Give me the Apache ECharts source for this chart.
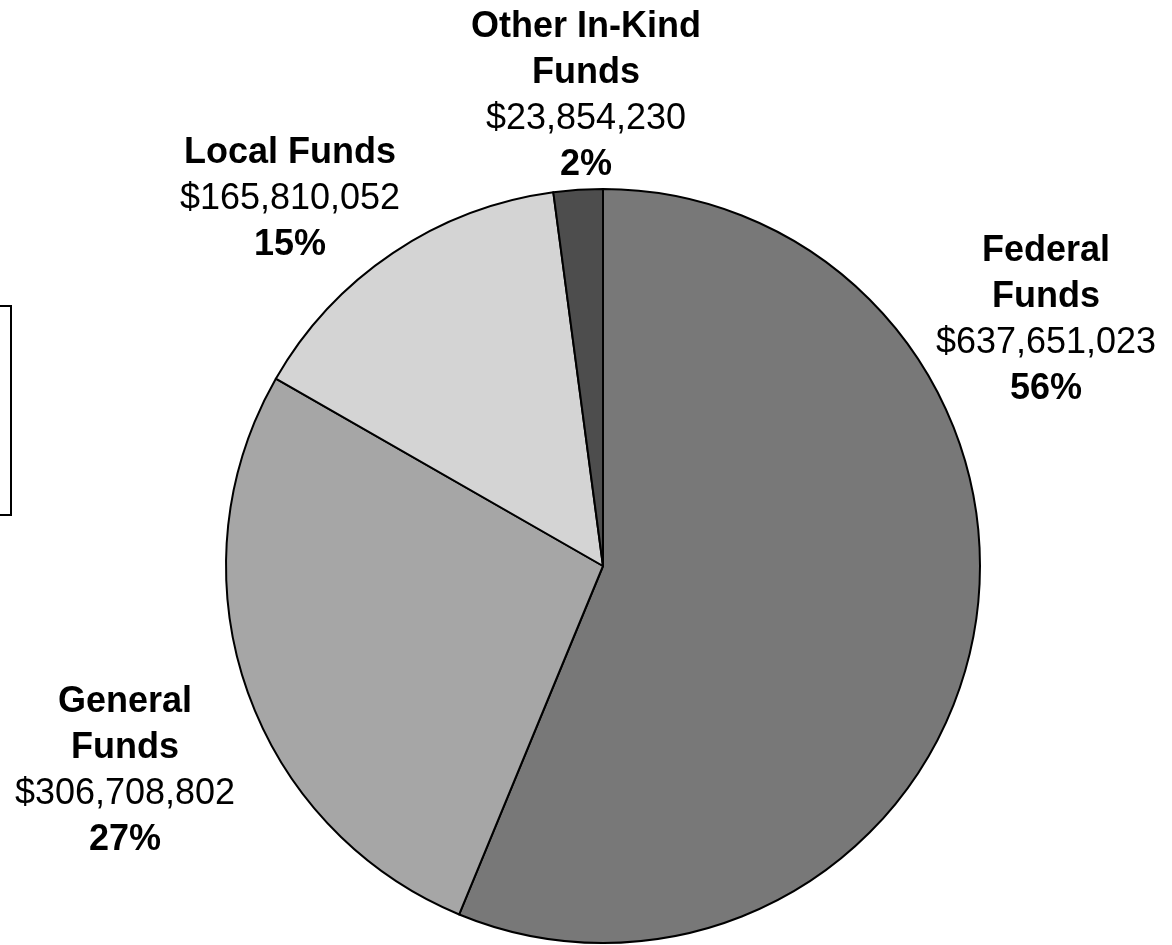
<!DOCTYPE html>
<html>
<head>
<meta charset="utf-8">
<title>Funding Sources</title>
<script src="https://cdn.jsdelivr.net/npm/echarts@6/dist/echarts.min.js"></script>
<style>
  html, body { margin: 0; padding: 0; background: #ffffff; }
  #chart { width: 1172px; height: 945px; }
</style>
</head>
<body>
<div id="chart"></div>
<script>
// Funding sources, listed clockwise from 12 o'clock
const categories = ['Federal\nFunds', 'General\nFunds', 'Local Funds', 'Other In-Kind\nFunds'];
const amounts = [637651023, 306708802, 165810052, 23854230];
const sliceColors = ['#787878', '#a6a6a6', '#d4d4d4', '#4d4d4d'];

// Where each label block is centred
const labelSpots = [
  [1046, 320],
  [125, 771],
  [290, 199],
  [586, 96]
];

const chart = echarts.init(document.getElementById('chart'), null, { renderer: 'canvas' });

function nameRich(name) {
  return name.split('\n').map(function (line) { return '{n|' + line + '}'; }).join('\n');
}

const option = {
  backgroundColor: '#ffffff',
  animation: false,
  textStyle: { fontFamily: '"Liberation Sans", Arial, sans-serif' },
  graphic: [
    {
      type: 'rect',
      shape: { x: -20, y: 306, width: 31, height: 209 },
      style: { fill: '#ffffff', stroke: '#000000', lineWidth: 2 }
    }
  ],
  series: [
    {
      type: 'pie',
      center: [603, 566],
      radius: [0, 377],
      startAngle: 90,
      clockwise: true,
      avoidLabelOverlap: false,
      data: categories.map(function (c, i) {
        return { name: c, value: amounts[i], itemStyle: { color: sliceColors[i] } };
      }),
      itemStyle: { borderColor: '#000000', borderWidth: 2 },
      emphasis: { disabled: true },
      labelLine: { show: false },
      label: {
        show: true,
        position: 'outside',
        color: '#000000',
        fontFamily: '"Liberation Sans", Arial, sans-serif',
        formatter: function (p) {
          return nameRich(p.name) + '\n{v|$' + p.value.toLocaleString('en-US') + '}\n{p|' + Math.round(p.percent) + '%}';
        },
        rich: {
          n: { fontSize: 36, fontWeight: 'bold', lineHeight: 46, color: '#000000', align: 'center' },
          v: { fontSize: 36, fontWeight: 'normal', lineHeight: 46, color: '#000000', align: 'center' },
          p: { fontSize: 36, fontWeight: 'bold', lineHeight: 46, color: '#000000', align: 'center' }
        }
      },
      labelLayout: function (params) {
        const s = labelSpots[params.dataIndex];
        return { x: s[0], y: s[1], align: 'center', verticalAlign: 'middle', hideOverlap: false, moveOverlap: null };
      }
    }
  ]
};

chart.setOption(option);
</script>
</body>
</html>
